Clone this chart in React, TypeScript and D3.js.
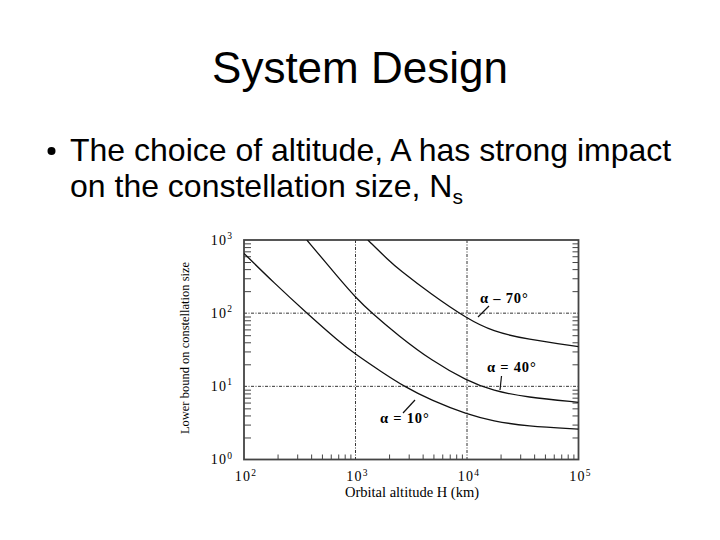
import React, { useRef, useEffect } from "react";
import * as d3 from "d3";

// altitude (km) -> lower bound on constellation size
const altitude10 = [100, 185, 366, 725, 1000, 1740, 2720, 4800, 10000, 17100, 34200, 100000];
const size10 = [656, 261, 100, 40, 27.5, 15.5, 10, 6.4, 4.15, 3.35, 2.85, 2.6];

const altitude40 = [366, 725, 1000, 1400, 2440, 4800, 10000, 17100, 34200, 100000];
const size40 = [1000, 289, 165, 100, 49, 22.5, 11.9, 8.7, 7.1, 6.05];

const altitude70 = [1290, 2000, 2440, 4800, 10000, 17100, 34200, 100000];
const size70 = [1000, 520, 398, 180, 84, 56, 44, 35];

const xDecades = [100, 1000, 10000, 100000];
const yDecades = [1, 10, 100, 1000];
const xGrid = [1000, 10000];
const yGrid = [10, 100];

const curveLabels = ["α = 10°", "α = 40°", "α – 70°"];

const serif = "'Liberation Serif', 'Times New Roman', serif";
const sans = "'Liberation Sans', Arial, sans-serif";

const App = () => {
  const ref = useRef<SVGSVGElement>(null);

  useEffect(() => {
    const svg = d3.select(ref.current);
    svg.selectAll("*").remove();

    const left = 244, right = 578.5, top = 240, bottom = 459.5;
    const x = d3.scaleLog().domain([1e2, 1e5]).range([left, right]);
    const y = d3.scaleLog().domain([1, 1e3]).range([bottom, top]);

    svg.append("rect").attr("width", 720).attr("height", 540).attr("fill", "#fff");

    // slide text
    svg.append("text")
      .attr("x", 360).attr("y", 83)
      .attr("text-anchor", "middle")
      .style("font-family", sans).style("font-size", "44px")
      .text("System Design");

    svg.append("circle").attr("cx", 51.5).attr("cy", 151).attr("r", 4).attr("fill", "#000");
    svg.append("text")
      .attr("x", 70).attr("y", 161)
      .style("font-family", sans).style("font-size", "32px")
      .text("The choice of altitude, A has strong impact");
    const line2 = svg.append("text")
      .attr("x", 70).attr("y", 197)
      .style("font-family", sans).style("font-size", "32px");
    line2.append("tspan").text("on the constellation size, N");
    line2.append("tspan").attr("dy", 7).style("font-size", "21px").text("s");

    // clip for curves
    svg.append("clipPath").attr("id", "plotclip")
      .append("rect").attr("x", left).attr("y", top)
      .attr("width", right - left).attr("height", bottom - top);

    // dotted grid
    const grid = svg.append("g")
      .attr("stroke", "#333").attr("stroke-width", 1)
      .attr("stroke-dasharray", "3,1.5,1,1.5");
    grid.selectAll(".gx").data(xGrid).enter().append("line")
      .attr("x1", d => x(d)).attr("x2", d => x(d))
      .attr("y1", top).attr("y2", bottom);
    grid.selectAll(".gy").data(yGrid).enter().append("line")
      .attr("y1", d => y(d)).attr("y2", d => y(d))
      .attr("x1", left).attr("x2", right);

    // minor ticks (inside)
    const minorX = x.ticks().filter(t => !xDecades.includes(t));
    const minorY = y.ticks().filter(t => !yDecades.includes(t));
    const tickStyle = (g: any) => {
      g.select(".domain").remove();
      g.selectAll("line").attr("stroke", "#444").attr("stroke-width", 1);
    };
    svg.append("g").attr("transform", `translate(${left},0)`)
      .call(d3.axisLeft(y).tickValues(minorY).tickSize(-7).tickFormat(() => ""))
      .call(tickStyle);
    svg.append("g").attr("transform", `translate(${right},0)`)
      .call(d3.axisRight(y).tickValues(minorY).tickSize(-6).tickFormat(() => ""))
      .call(tickStyle);
    svg.append("g").attr("transform", `translate(0,${bottom})`)
      .call(d3.axisBottom(x).tickValues(minorX).tickSize(-5).tickFormat(() => ""))
      .call(tickStyle);

    // frame
    svg.append("rect")
      .attr("x", left).attr("y", top)
      .attr("width", right - left).attr("height", bottom - top)
      .attr("fill", "none").attr("stroke", "#444").attr("stroke-width", 1.8);

    // tick labels with superscript exponents
    const expLabel = (sel: any) => {
      sel.append("tspan").text("10");
      sel.append("tspan").attr("dy", -5.5).style("font-size", "9.5px")
        .text((d: number) => String(Math.round(Math.log10(d))));
    };
    svg.selectAll(".ylab").data(yDecades).enter().append("text")
      .attr("x", 222).attr("y", d => y(d) + 4.5)
      .attr("text-anchor", "middle")
      .style("font-family", serif).style("font-size", "14px")
      .style("letter-spacing", "1.2px")
      .call(expLabel);
    svg.selectAll(".xlab").data(xDecades).enter().append("text")
      .attr("x", d => x(d) + 2).attr("y", 481)
      .attr("text-anchor", "middle")
      .style("font-family", serif).style("font-size", "14px")
      .style("letter-spacing", "1.2px")
      .call(expLabel);

    svg.append("text")
      .attr("x", 412).attr("y", 497)
      .attr("text-anchor", "middle")
      .style("font-family", serif).style("font-size", "14.5px")
      .text("Orbital altitude H (km)");
    svg.append("text")
      .attr("transform", "translate(189,348) rotate(-90)")
      .attr("text-anchor", "middle")
      .style("font-family", serif).style("font-size", "12.5px")
      .text("Lower bound on constellation size");

    // curves
    const series = [
      altitude10.map((a, i) => [a, size10[i]]),
      altitude40.map((a, i) => [a, size40[i]]),
      altitude70.map((a, i) => [a, size70[i]]),
    ];
    const line = d3.line<number[]>()
      .x(d => x(d[0])).y(d => y(d[1]))
      .curve(d3.curveBasis);
    svg.append("g").attr("clip-path", "url(#plotclip)")
      .selectAll("path").data(series).enter().append("path")
      .attr("d", line)
      .attr("fill", "none").attr("stroke", "#111").attr("stroke-width", 1.3);

    // curve labels with leader lines
    const labelPos = [[380, 423], [487, 372], [480, 303]];
    const leaders = [[403, 413, 415, 400], [501.5, 376, 500, 390], [478, 317, 489, 306]];
    svg.selectAll(".clab").data(curveLabels).enter().append("text")
      .attr("x", (d, i) => labelPos[i][0]).attr("y", (d, i) => labelPos[i][1])
      .style("font-family", serif).style("font-size", "14.5px")
      .style("font-weight", "bold").style("letter-spacing", "0.8px")
      .text(d => d);
    svg.selectAll(".lead").data(leaders).enter().append("line")
      .attr("x1", d => d[0]).attr("y1", d => d[1])
      .attr("x2", d => d[2]).attr("y2", d => d[3])
      .attr("stroke", "#111").attr("stroke-width", 1.2);
  }, []);

  return (
    <svg ref={ref} width={720} height={540}
      style={{ position: "absolute", left: 0, top: 0, display: "block" }} />
  );
};

export default App;
